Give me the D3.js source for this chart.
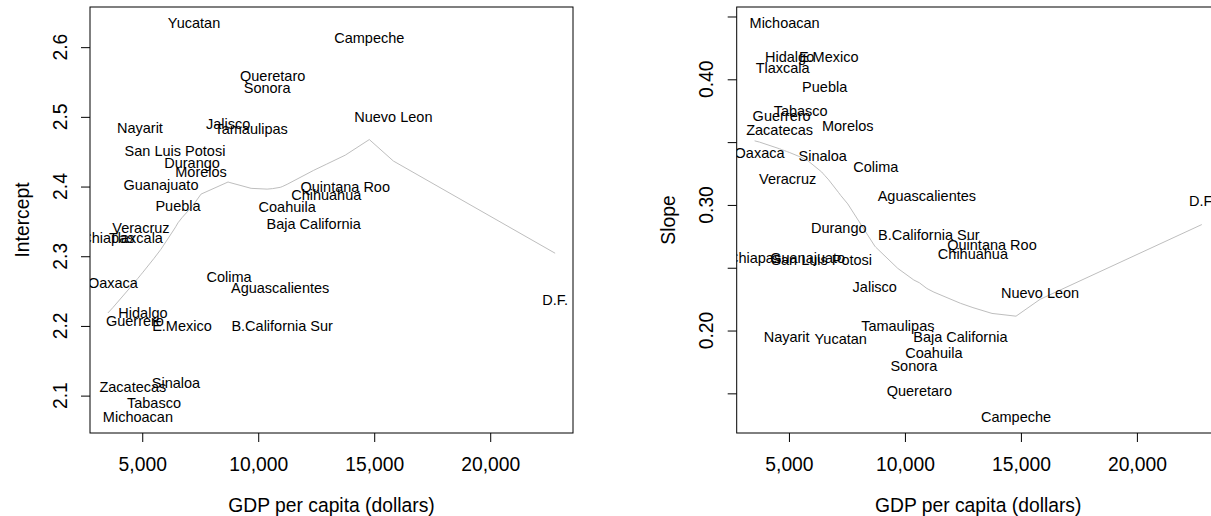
<!DOCTYPE html>
<html>
<head>
<meta charset="utf-8">
<script src="https://cdn.jsdelivr.net/npm/d3@7"></script>
<style>
  body { margin: 0; background: #fff; }
  svg { display: block; }
  text { font-family: "Liberation Sans", Arial, Helvetica, sans-serif; fill: #000; }
</style>
</head>
<body>
<svg width="1211" height="516"></svg>
<script>
// one entry per state, same order in every array
const states = ["Aguascalientes", "Baja California", "B.California Sur", "Campeche", "Chiapas",
  "Chihuahua", "Coahuila", "Colima", "D.F.", "Durango", "E.Mexico", "Guanajuato", "Guerrero",
  "Hidalgo", "Jalisco", "Michoacan", "Morelos", "Nayarit", "Nuevo Leon", "Oaxaca", "Puebla",
  "Queretaro", "Quintana Roo", "San Luis Potosi", "Sinaloa", "Sonora", "Tabasco", "Tamaulipas",
  "Tlaxcala", "Veracruz", "Yucatan", "Zacatecas"];

const gdp = [10946, 12392, 11032, 14789, 3519, 12932, 11248, 8744, 22798, 7146, 6714, 5807, 4685,
  5030, 8700, 4814, 7535, 4901, 15825, 3735, 6541, 10622, 13752, 6412, 6455, 10384, 5505, 9693,
  4728, 4944, 7232, 4598];

const intercept = [2.254, 2.346, 2.200, 2.613, 2.326, 2.388, 2.371, 2.270, 2.237, 2.434, 2.200,
  2.402, 2.207, 2.218, 2.490, 2.069, 2.421, 2.484, 2.500, 2.261, 2.372, 2.559, 2.399, 2.451, 2.118,
  2.542, 2.090, 2.483, 2.326, 2.340, 2.635, 2.112];

const slope = [0.307, 0.195, 0.276, 0.131, 0.258, 0.261, 0.182, 0.330, 0.303, 0.282, 0.418, 0.258,
  0.371, 0.418, 0.235, 0.445, 0.363, 0.195, 0.230, 0.341, 0.394, 0.152, 0.268, 0.256, 0.339, 0.172,
  0.375, 0.204, 0.409, 0.321, 0.193, 0.360];

const xTicks = [5000, 10000, 15000, 20000];
const interceptTicks = [2.1, 2.2, 2.3, 2.4, 2.5, 2.6];
const slopeTicks = [0.15, 0.20, 0.25, 0.30, 0.35, 0.40, 0.45];
const slopeTickLabels = [0.20, 0.30, 0.40];

const svg = d3.select("svg");

// R style lowess (f = 2/3, iter = 3)
function lowess(x, y, f = 2 / 3, iter = 3) {
  const n = x.length;
  const range = x[n - 1] - x[0];
  const delta = 0.01 * range;
  const ns = Math.max(2, Math.min(n, Math.floor(f * n + 1e-7)));
  const ys = new Array(n).fill(0), res = new Array(n).fill(0), rw = new Array(n).fill(1);

  function lowest(xs, nleft, nright, userw) {
    const h = Math.max(xs - x[nleft], x[nright] - xs);
    const h9 = 0.999 * h, h1 = 0.001 * h;
    let a = 0, j = nleft;
    while (j < n) {
      res[j] = 0;
      const r = Math.abs(x[j] - xs);
      if (r <= h9) {
        res[j] = r <= h1 ? 1 : Math.pow(1 - Math.pow(r / h, 3), 3);
        if (userw) res[j] *= rw[j];
        a += res[j];
      } else if (x[j] > xs) break;
      j++;
    }
    const nrt = j - 1;
    if (a <= 0) return null;
    for (j = nleft; j <= nrt; j++) res[j] /= a;
    if (h > 0) {
      a = 0;
      for (j = nleft; j <= nrt; j++) a += res[j] * x[j];
      let b = xs - a, c = 0;
      for (j = nleft; j <= nrt; j++) c += res[j] * (x[j] - a) * (x[j] - a);
      if (Math.sqrt(c) > 0.001 * range) {
        b /= c;
        for (j = nleft; j <= nrt; j++) res[j] *= (b * (x[j] - a) + 1);
      }
    }
    let out = 0;
    for (j = nleft; j <= nrt; j++) out += res[j] * y[j];
    return out;
  }

  for (let it = 1; it <= iter + 1; it++) {
    let nleft = 0, nright = ns - 1, last = -1, i = 0;
    for (;;) {
      if (nright < n - 1) {
        const d1 = x[i] - x[nleft], d2 = x[nright + 1] - x[i];
        if (d1 > d2) { nleft++; nright++; continue; }
      }
      const v = lowest(x[i], nleft, nright, it > 1);
      ys[i] = v === null ? y[i] : v;
      if (last < i - 1) {
        const denom = x[i] - x[last];
        for (let j = last + 1; j < i; j++) {
          const alpha = (x[j] - x[last]) / denom;
          ys[j] = alpha * ys[i] + (1 - alpha) * ys[last];
        }
      }
      last = i;
      const cut = x[last] + delta;
      for (i = last + 1; i < n; i++) {
        if (x[i] > cut) break;
        if (x[i] === x[last]) { ys[i] = ys[last]; last = i; }
      }
      i = Math.max(last + 1, i - 1);
      if (last >= n - 1) break;
    }
    for (let k = 0; k < n; k++) res[k] = y[k] - ys[k];
    if (it > iter) break;
    const sorted = res.map(Math.abs).sort((a, b) => a - b);
    const m1 = Math.floor(n / 2);
    const cmad = n % 2 === 0 ? 3 * (sorted[m1] + sorted[n - m1 - 1]) : 6 * sorted[m1];
    const sc = d3.sum(res, Math.abs) / n;
    if (cmad < 1e-7 * sc) break;
    const c9 = 0.999 * cmad, c1 = 0.001 * cmad;
    for (let k = 0; k < n; k++) {
      const r = Math.abs(res[k]);
      rw[k] = r <= c1 ? 1 : r <= c9 ? Math.pow(1 - Math.pow(r / cmad, 2), 2) : 0;
    }
  }
  return ys;
}

// pad like R: 4% each side
function padded(vals) {
  const [a, b] = d3.extent(vals);
  const p = (b - a) * 0.04;
  return [a - p, b + p];
}

const panels = [
  { vals: intercept, title: "Intercept", left: 90, ticks: interceptTicks, labels: interceptTicks, fmt: d3.format(".1f"), id: "a" },
  { vals: slope, title: "Slope", left: 736.7, ticks: slopeTicks, labels: slopeTickLabels, fmt: d3.format(".2f"), id: "b" }
];

const plotTop = 7, plotBottom = 433, boxW = 483;

panels.forEach(p => {
  const x = d3.scaleLinear().domain(padded(gdp)).range([p.left, p.left + boxW]);
  const y = d3.scaleLinear().domain(padded(p.vals)).range([plotBottom, plotTop]);
  const g = svg.append("g");

  g.append("clipPath").attr("id", "clip-" + p.id)
    .append("rect").attr("x", p.left).attr("y", plotTop).attr("width", boxW).attr("height", plotBottom - plotTop);

  // lowess line
  const order = d3.range(gdp.length).sort((i, j) => gdp[i] - gdp[j]);
  const xs = order.map(i => gdp[i]);
  const ys = lowess(xs, order.map(i => p.vals[i]));
  g.append("path")
    .attr("clip-path", `url(#clip-${p.id})`)
    .attr("d", d3.line().x((d, i) => x(xs[i])).y(d => y(d))(ys))
    .attr("fill", "none")
    .attr("stroke", "#bebebe")
    .attr("stroke-width", 1);

  // state labels
  g.append("g").attr("clip-path", `url(#clip-${p.id})`)
    .selectAll("text")
    .data(states)
    .join("text")
    .attr("x", (d, i) => x(gdp[i]))
    .attr("y", (d, i) => y(p.vals[i]))
    .attr("dy", "0.35em")
    .attr("text-anchor", "middle")
    .style("font-size", "14.5px")
    .text(d => d);

  // box
  g.append("rect")
    .attr("x", p.left).attr("y", plotTop).attr("width", boxW).attr("height", plotBottom - plotTop)
    .attr("fill", "none").attr("stroke", "#000").attr("stroke-width", 1);

  // x axis
  const xa = g.append("g").attr("transform", `translate(0,${plotBottom})`)
    .call(d3.axisBottom(x).tickValues(xTicks).tickFormat(d3.format(",")).tickSize(9).tickSizeOuter(0).tickPadding(15));
  xa.select(".domain").remove();
  xa.selectAll("text").style("font-size", "19.3px").attr("font-family", null);

  // y axis
  const ya = g.append("g").attr("transform", `translate(${p.left},0)`)
    .call(d3.axisLeft(y).tickValues(p.ticks).tickFormat("").tickSize(9).tickSizeOuter(0));
  ya.select(".domain").remove();

  g.selectAll(".ylab")
    .data(p.labels)
    .join("text")
    .attr("transform", d => `translate(${p.left - 30},${y(d)}) rotate(-90)`)
    .attr("dy", "0.35em")
    .attr("text-anchor", "middle")
    .style("font-size", "19.3px")
    .text(d => p.fmt(d));

  g.append("text")
    .attr("transform", `translate(${p.left - 68},${(plotTop + plotBottom) / 2}) rotate(-90)`)
    .attr("dy", "0.35em")
    .attr("text-anchor", "middle")
    .style("font-size", "19.3px")
    .text(p.title);

  g.append("text")
    .attr("x", p.left + boxW / 2)
    .attr("y", 505)
    .attr("dy", "0.35em")
    .attr("text-anchor", "middle")
    .style("font-size", "19.3px")
    .text("GDP per capita (dollars)");
});
</script>
</body>
</html>
